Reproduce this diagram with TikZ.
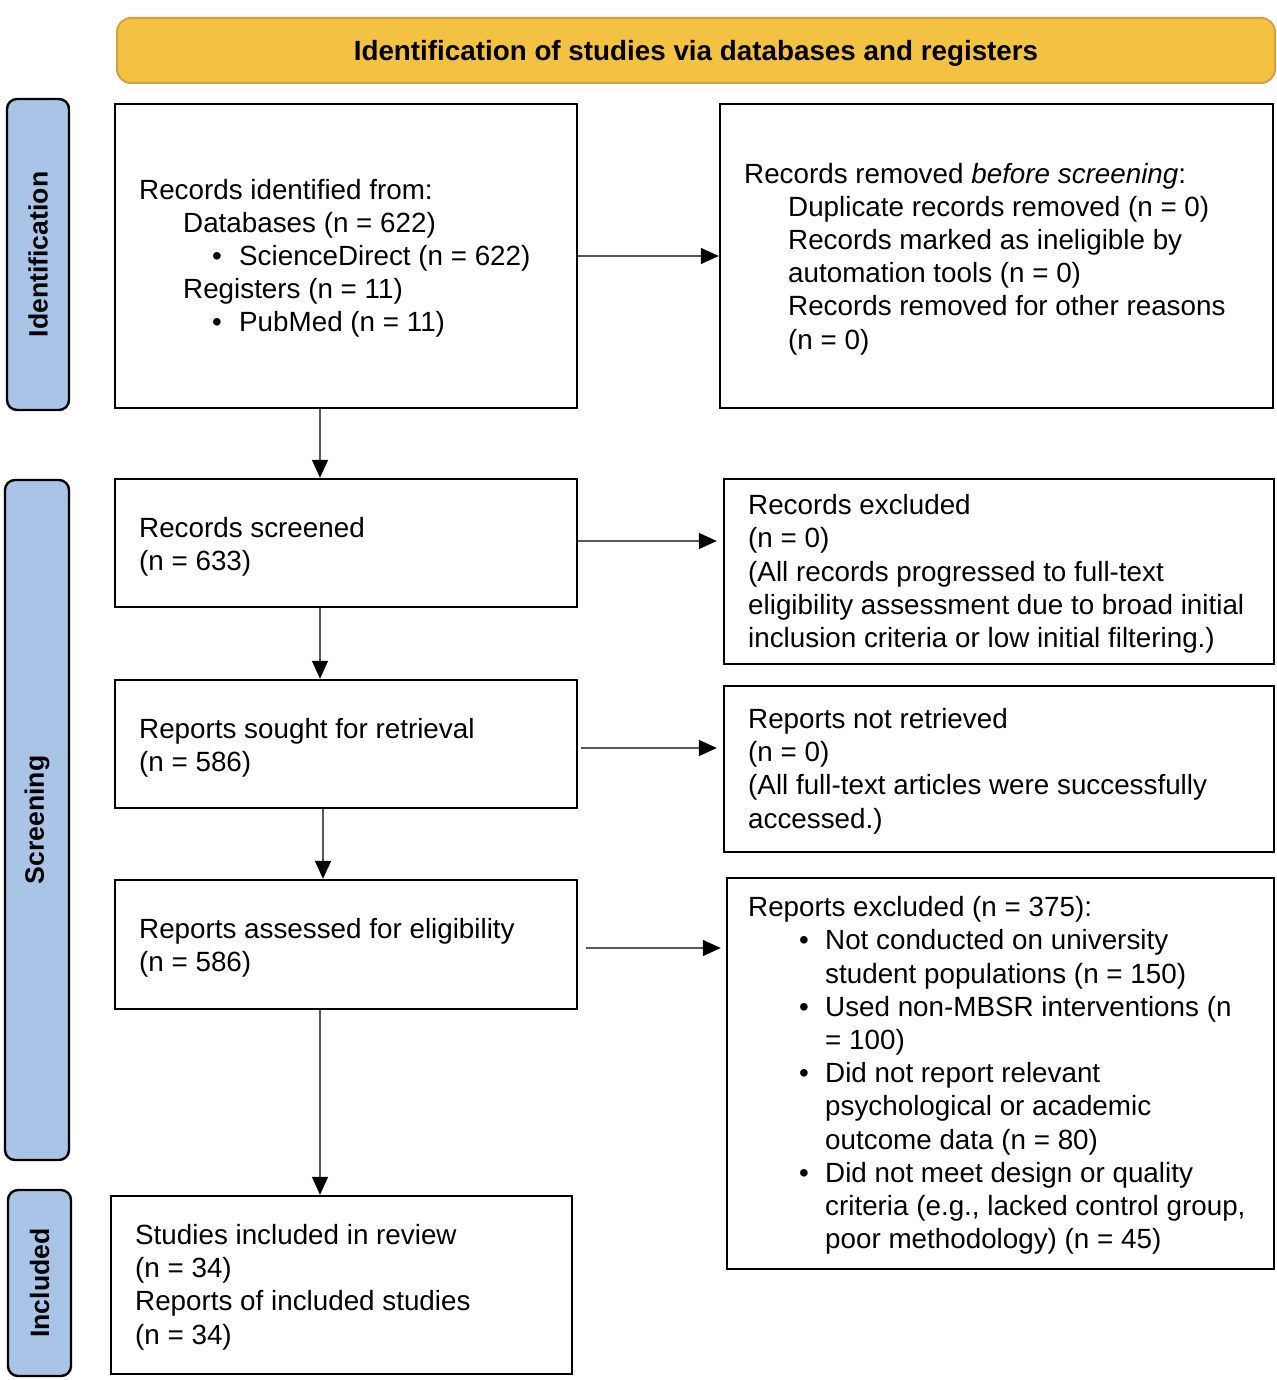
\documentclass[tikz,border=0pt]{standalone}
\usepackage{fontspec}
\setmainfont{Liberation Sans}
\usetikzlibrary{arrows.meta,calc}
\definecolor{hdrfill}{HTML}{F4C243}
\definecolor{hdrdraw}{HTML}{D4A039}
\definecolor{phaseblue}{HTML}{A9C4E6}
\begin{document}
\begin{tikzpicture}[x=0.5pt,y=-0.5pt,
  frame/.style={draw=black,line width=1.2pt,inner sep=0pt},
  txt/.style={anchor=west,align=left,inner sep=0pt,font=\fontsize{13.9}{16.6}\selectfont},
  phase/.style={draw=black,line width=1.2pt,rounded corners=5pt,fill=phaseblue,rotate=90,inner sep=0pt,font=\bfseries\fontsize{13.3}{16}\selectfont},
  arr/.style={draw=black!65,line width=0.8pt,-{Triangle[length=9pt,width=8pt,black]}}]
\useasboundingbox (0,0) rectangle (1277,1380);
% header
\node[draw=hdrdraw,fill=hdrfill,line width=1pt,rounded corners=7pt,minimum width=579pt,minimum height=32.5pt,inner sep=0pt] (hdr) at (696,50.5) {};
\node[inner sep=0pt,font=\bfseries\fontsize{13.9}{16}\selectfont] (hdrt) at ([yshift=-1.5pt]hdr.center) {Identification of studies via databases and registers};
% phases
\node[phase,minimum width=155.5pt,minimum height=31pt] (pid) at (38,254.5) {Identification};
\node[phase,minimum width=340pt,minimum height=32pt] (psc) at (37,820) {Screening};
\node[phase,minimum width=93pt,minimum height=31.5pt] (pin) at (39.5,1283) {Included};
% boxes
\node[frame,minimum width=231pt,minimum height=152pt] (b1) at (346,256) {};
\node[frame,minimum width=276.5pt,minimum height=152pt] (b2) at (996.5,256) {};
\node[frame,minimum width=231pt,minimum height=64pt] (b3) at (346,543) {};
\node[frame,minimum width=275pt,minimum height=92.5pt] (b4) at (999,571.5) {};
\node[frame,minimum width=231pt,minimum height=64pt] (b5) at (346,744) {};
\node[frame,minimum width=275pt,minimum height=83pt] (b6) at (999,769) {};
\node[frame,minimum width=231pt,minimum height=64.5pt] (b7) at (346,944.5) {};
\node[frame,minimum width=273.5pt,minimum height=195.5pt] (b8) at (1000.5,1073.5) {};
\node[frame,minimum width=230.5pt,minimum height=89pt] (b9) at (341.5,1285) {};
% texts
\node[txt] (t1) at ([xshift=12.5pt,yshift=-1.2pt]b1.west) {Records identified from:\\
\hspace*{22pt}Databases (n = 622)\\
\hspace*{36.5pt}\makebox[13.5pt][l]{•}ScienceDirect (n = 622)\\
\hspace*{22pt}Registers (n = 11)\\
\hspace*{36.5pt}\makebox[13.5pt][l]{•}PubMed (n = 11)};
\node[txt] (t2) at ([xshift=12.5pt,yshift=-1.5pt]b2.west) {Records removed \textit{before screening}:\\
\hspace*{22pt}Duplicate records removed (n = 0)\\
\hspace*{22pt}Records marked as ineligible by\\
\hspace*{22pt}automation tools (n = 0)\\
\hspace*{22pt}Records removed for other reasons\\
\hspace*{22pt}(n = 0)};
\node[txt] (t3) at ([xshift=12.5pt,yshift=-2pt]b3.west) {Records screened\\(n = 633)};
\node[txt] (t4) at ([xshift=12.5pt,yshift=-1.2pt]b4.west) {Records excluded\\(n = 0)\\(All records progressed to full-text\\eligibility assessment due to broad initial\\inclusion criteria or low initial filtering.)};
\node[txt] (t5) at ([xshift=12.5pt,yshift=-2pt]b5.west) {Reports sought for retrieval\\(n = 586)};
\node[txt] (t6) at ([xshift=12.5pt,yshift=-1pt]b6.west) {Reports not retrieved\\(n = 0)\\(All full-text articles were successfully\\accessed.)};
\node[txt] (t7) at ([xshift=12.5pt,yshift=-1.5pt]b7.west) {Reports assessed for eligibility\\(n = 586)};
\node[txt] (t8) at ([xshift=11pt,yshift=-1pt]b8.west) {Reports excluded (n = 375):\\
\hspace*{25.5pt}\makebox[13pt][l]{•}Not conducted on university\\
\hspace*{38.5pt}student populations (n = 150)\\
\hspace*{25.5pt}\makebox[13pt][l]{•}Used non-MBSR interventions (n\\
\hspace*{38.5pt}= 100)\\
\hspace*{25.5pt}\makebox[13pt][l]{•}Did not report relevant\\
\hspace*{38.5pt}psychological or academic\\
\hspace*{38.5pt}outcome data (n = 80)\\
\hspace*{25.5pt}\makebox[13pt][l]{•}Did not meet design or quality\\
\hspace*{38.5pt}criteria (e.g., lacked control group,\\
\hspace*{38.5pt}poor methodology) (n = 45)};
\node[txt] (t9) at ([xshift=12.5pt,yshift=-1pt]b9.west) {Studies included in review\\(n = 34)\\Reports of included studies\\(n = 34)};
% arrows
\draw[arr] (b1.east) -- (b2.west);
\draw[arr] ([yshift=1pt]b3.east) -- ([yshift=1pt,xshift=-3pt]b3.east -| b4.west);
\draw[arr] ([xshift=1.5pt,yshift=-2pt]b5.east) -- ([yshift=-2pt,xshift=-3pt]b5.east -| b6.west);
\draw[arr] ([xshift=4pt,yshift=-1.75pt]b7.east) -- ([yshift=-1.75pt,xshift=-2.5pt]b7.east -| b8.west);
\coordinate (ax) at (320,0);
\coordinate (ay) at (323,0);
\draw[arr] (ax |- b1.south) -- (ax |- b3.north);
\draw[arr] (ax |- b3.south) -- (ax |- b5.north);
\draw[arr] (ay |- b5.south) -- (ay |- b7.north);
\draw[arr] (ax |- b7.south) -- (ax |- b9.north);
\end{tikzpicture}
\end{document}
